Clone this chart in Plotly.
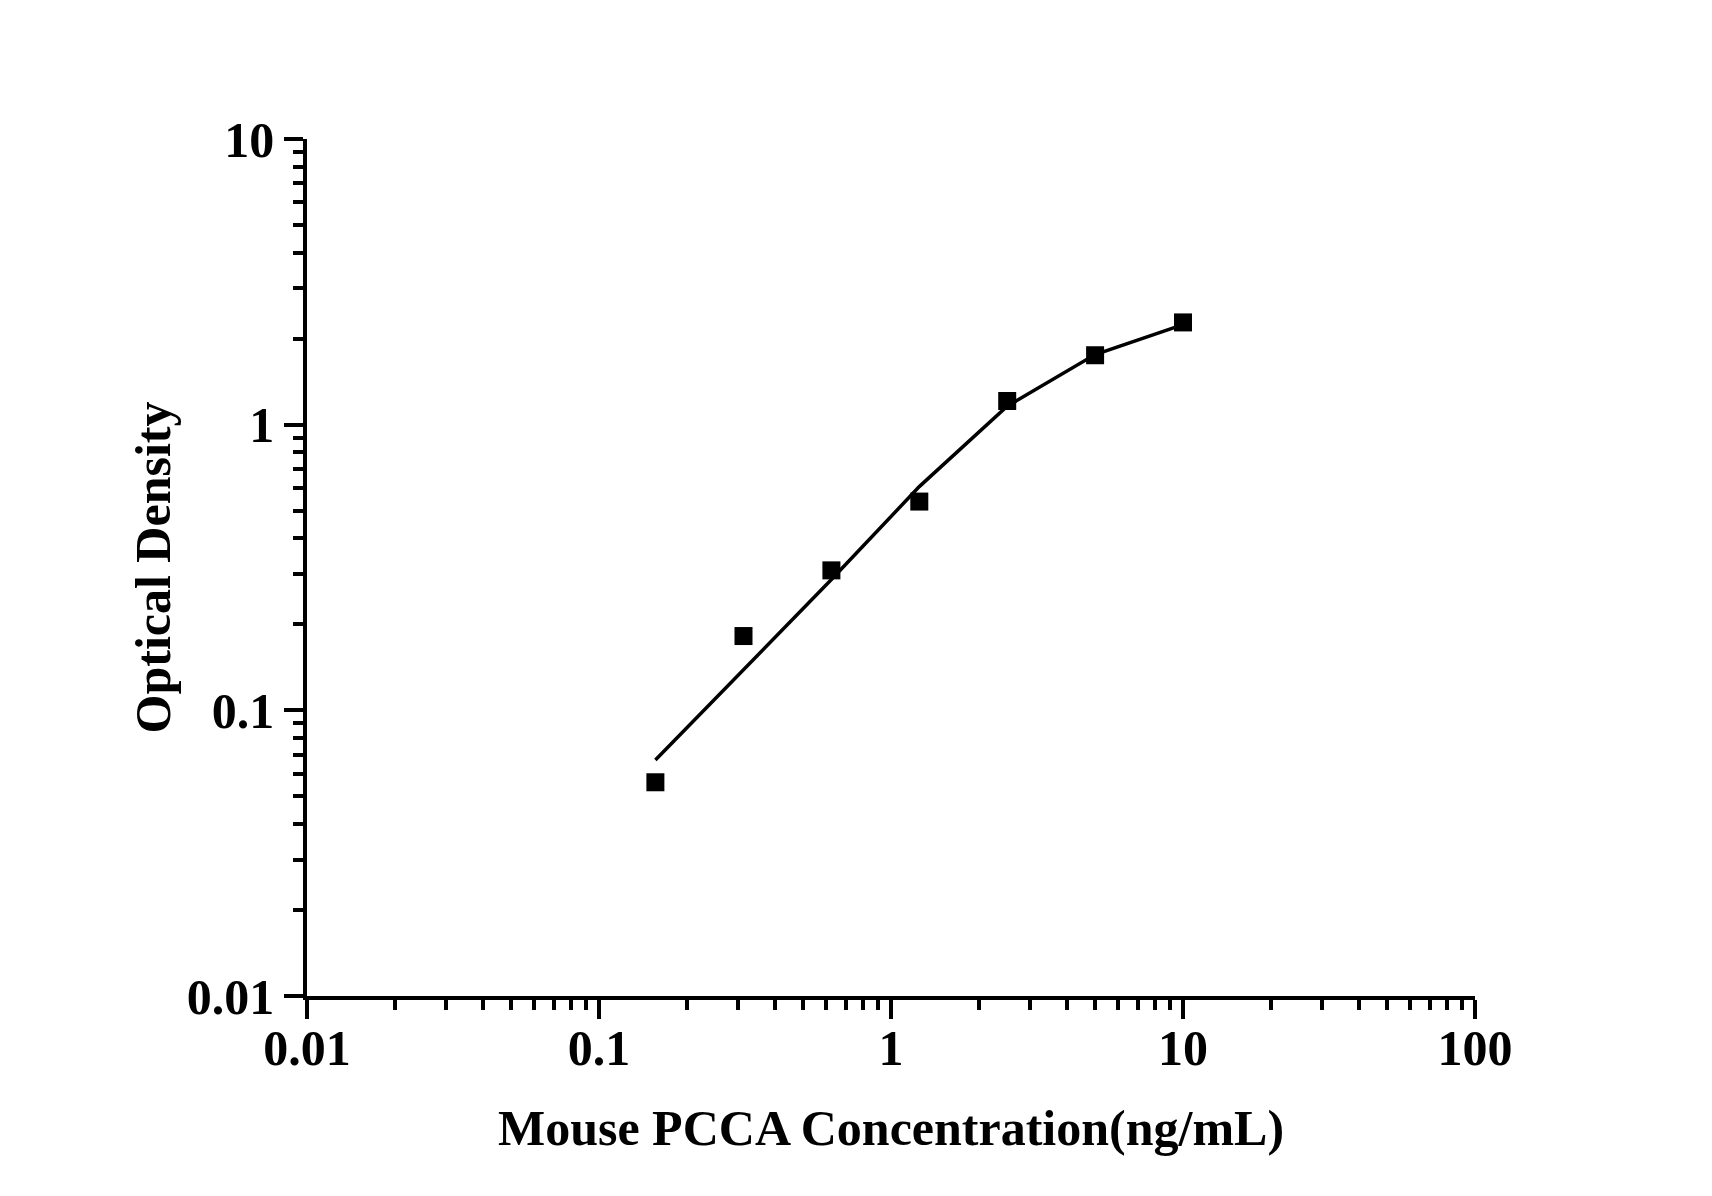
import plotly.graph_objects as go

# standards (ng/mL) and measured OD
conc = [0.156, 0.3125, 0.625, 1.25, 2.5, 5, 10]
od = [0.056, 0.182, 0.309, 0.538, 1.21, 1.75, 2.28]

# fitted curve values
fit_conc = [0.156, 0.3125, 0.625, 1.25, 2.5, 5, 10]
fit_od = [0.067, 0.139, 0.287, 0.607, 1.16, 1.76, 2.24]

x_ticks = [0.01, 0.1, 1, 10, 100]
x_labels = ["0.01", "0.1", "1", "10", "100"]
y_ticks = [0.01, 0.1, 1, 10]
y_labels = ["0.01", "0.1", "1", "10"]

font_name = "Liberation Serif"
title_font = dict(family=font_name, size=50, color="black", weight="bold")

fig = go.Figure()
fig.add_trace(go.Scatter(x=fit_conc, y=fit_od, mode="lines",
                         line=dict(color="black", width=3.5), showlegend=False))
fig.add_trace(go.Scatter(x=conc, y=od, mode="markers",
                         marker=dict(symbol="square", size=18, color="black"),
                         showlegend=False))

axis_style = dict(
    showgrid=False, zeroline=False, showline=True, linecolor="black", linewidth=3.5,
    ticks="outside", ticklen=19, tickwidth=3.5, tickcolor="black",
    tickfont=dict(family=font_name, size=50, color="black", weight="bold"),
    minor=dict(ticks="outside", ticklen=10, tickwidth=3.5, tickcolor="black", dtick="D1"),
    mirror=False,
)

fig.update_xaxes(type="log", range=[-2, 2], tickvals=x_ticks, ticktext=x_labels,
                 ticklabelstandoff=-14,
                 title=dict(text="Mouse PCCA Concentration(ng/mL)", standoff=36, font=title_font),
                 **axis_style)
fig.update_yaxes(type="log", range=[-2, 1], tickvals=y_ticks, ticktext=y_labels,
                 title=dict(text="Optical Density", standoff=1, font=title_font),
                 **axis_style)

fig.update_layout(width=1712, height=1196,
                  margin=dict(l=299, r=245, t=131, b=208),
                  plot_bgcolor="white", paper_bgcolor="white")

fig.write_html("out.html")
